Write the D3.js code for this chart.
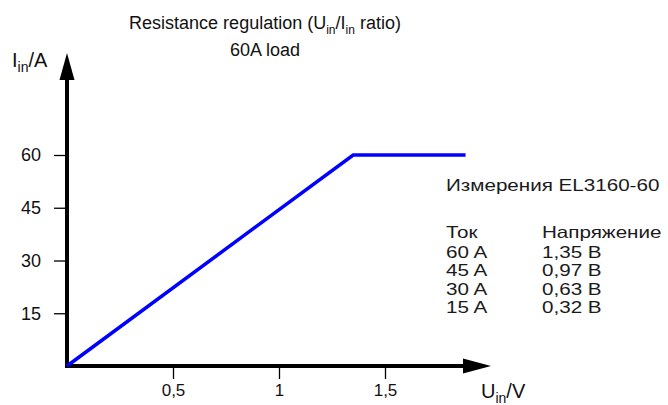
<!DOCTYPE html>
<html>
<head>
<meta charset="utf-8">
<style>
  body { margin: 0; background: #fff; }
  svg { font-family: Arial, "Liberation Sans", sans-serif; }
</style>
</head>
<body>
<svg width="668" height="405"></svg>
<script src="https://d3js.org/d3.v7.min.js"></script>
<script>

var xTicks = [0.5, 1, 1.5],
    yTicks = [15, 30, 45, 60];

// regulation curve: U_in (V), I_in (A)
var curveU = [0, 1.35, 1.88],
    curveI = [0, 60, 60];

// measured points from the table
var measCurrent = ["60 A", "45 A", "30 A", "15 A"],
    measVoltage = ["1,35 В", "0,97 В", "0,63 В", "0,32 В"];

var svg = d3.select("svg");

var x = d3.scaleLinear().domain([0, 1.5]).range([67, 385]),
    y = d3.scaleLinear().domain([0, 60]).range([366, 155]);

var comma = function(d) { return String(d).replace(".", ","); };

// axes
var xAxis = svg.append("g")
    .attr("transform", "translate(0," + y(0) + ")")
    .call(d3.axisBottom(x).tickValues(xTicks).tickSize(13).tickPadding(5).tickFormat(comma));
var yAxis = svg.append("g")
    .attr("transform", "translate(" + x(0) + ",0)")
    .call(d3.axisLeft(y).tickValues(yTicks).tickSize(13).tickPadding(13));

[xAxis, yAxis].forEach(function(g) {
  g.attr("font-size", 17).attr("font-family", null);
  g.select(".domain").remove();
  g.selectAll(".tick line").attr("stroke", "#000").attr("stroke-width", 1.3);
  g.selectAll(".tick text").attr("fill", "#111");
});
yAxis.attr("font-size", 18);
xAxis.selectAll(".tick line").attr("y1", 2);
yAxis.selectAll(".tick line").attr("x1", -2);

// axis lines with arrows
svg.append("line")
    .attr("x1", x(0) - 2).attr("x2", 466)
    .attr("y1", y(0)).attr("y2", y(0))
    .attr("stroke", "#000").attr("stroke-width", 4);
svg.append("path")
    .attr("d", "M463," + (y(0) - 7.5) + "L491," + y(0) + "L463," + (y(0) + 7.5) + "Z")
    .attr("fill", "#000");

svg.append("line")
    .attr("x1", x(0)).attr("x2", x(0))
    .attr("y1", y(0) + 2).attr("y2", 78)
    .attr("stroke", "#000").attr("stroke-width", 4);
svg.append("path")
    .attr("d", "M" + (x(0) - 7.5) + ",80L" + x(0) + ",53L" + (x(0) + 7.5) + ",80Z")
    .attr("fill", "#000");

// curve
var line = d3.line()
    .x(function(d) { return x(d[0]); })
    .y(function(d) { return y(d[1]); });

svg.append("path")
    .datum(curveU.map(function(u, i) { return [u, curveI[i]]; }))
    .attr("d", line)
    .attr("fill", "none")
    .attr("stroke", "#0000ff")
    .attr("stroke-width", 3.5);

// title
var title = svg.append("text")
    .attr("text-anchor", "middle")
    .attr("font-size", 18)
    .attr("fill", "#111");
var t1 = title.append("tspan").attr("x", 265).attr("y", 29);
t1.append("tspan").text("Resistance regulation (U");
t1.append("tspan").attr("font-size", 12).attr("dy", 5).text("in");
t1.append("tspan").attr("dy", -5).text("/I");
t1.append("tspan").attr("font-size", 12).attr("dy", 5).text("in");
t1.append("tspan").attr("dy", -5).text(" ratio)");
title.append("tspan").attr("x", 265).attr("y", 56).text("60A load");

// axis labels
var yl = svg.append("text").attr("x", 12).attr("y", 67).attr("font-size", 20).attr("fill", "#111");
yl.append("tspan").text("I");
yl.append("tspan").attr("font-size", 14).attr("dy", 5).text("in");
yl.append("tspan").attr("dy", -5).text("/A");

var xl = svg.append("text").attr("x", 481).attr("y", 398).attr("font-size", 20).attr("fill", "#111");
xl.append("tspan").text("U");
xl.append("tspan").attr("font-size", 14).attr("dy", 5).text("in");
xl.append("tspan").attr("dy", -5).text("/V");

// measurement table (glyphs in the source are wider than Arial)
var table = svg.append("g")
    .attr("transform", "translate(446,0) scale(1.25,1)")
    .attr("font-size", 16.5)
    .attr("fill", "#1a1a1a");
var col2 = (542 - 446) / 1.25;
table.append("text").attr("x", 0).attr("y", 191).text("Измерения EL3160-60");
table.append("text").attr("x", 0).attr("y", 238).text("Ток");
table.append("text").attr("x", col2).attr("y", 238).text("Напряжение");

table.selectAll(".cur")
  .data(measCurrent)
  .enter().append("text")
    .attr("x", 0)
    .attr("y", function(d, i) { return 258 + i * 18.5; })
    .text(function(d) { return d; });
table.selectAll(".volt")
  .data(measVoltage)
  .enter().append("text")
    .attr("x", col2)
    .attr("y", function(d, i) { return 258 + i * 18.5; })
    .text(function(d) { return d; });

</script>
</body>
</html>
